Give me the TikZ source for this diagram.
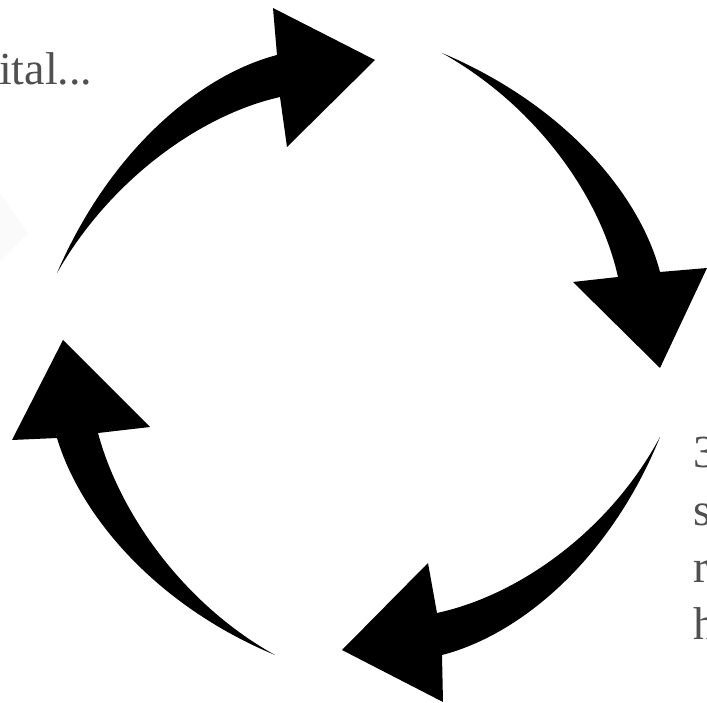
\documentclass[tikz,border=0pt]{standalone}
\usepackage{fontspec}
\setmainfont{Liberation Serif}
\definecolor{txtgrey}{HTML}{505050}

\begin{document}
\begin{tikzpicture}[
  x=1pt, y=-1pt,
  txt/.style={anchor=base west, inner sep=0pt, text=txtgrey,
              font=\fontsize{46}{57}\selectfont},
  blk/.style={fill=black},
  ghost/.style={fill=black!2}]

\clip (0,0) rectangle (707,703);

% faint shape at the left border
\fill[ghost] (0,193) -- (28,233) -- (0,262) -- cycle;

\node[txt] (lefttxt) at (-1,85) {ital...};
\node[txt] (r1) at (693,467) {3};
\node[txt] (r2) at (693,525) {s};
\node[txt] (r3) at (693,582) {r};
\node[txt] (r4) at (693,639) {h};

% top left arrow
\fill[blk] (57,273) .. controls (110,150) and (200,75) .. (277,55)
  -- (273,8) -- (375,60) -- (287,147) -- (280,97)
  .. controls (200,115) and (110,180) .. cycle;
% top right arrow
\fill[blk] (442,53) .. controls (565,105) and (640,195) .. (660,272)
  -- (707,268) -- (660,368) -- (573,282) -- (618,277)
  .. controls (600,195) and (535,105) .. cycle;
% bottom right arrow
\fill[blk] (660,437) .. controls (610,560) and (520,635) .. (442,655)
  -- (443,702) -- (342,650) -- (428,563) -- (437,613)
  .. controls (520,595) and (610,530) .. cycle;
% bottom left arrow
\fill[blk] (275,655) .. controls (155,605) and (80,515) .. (57,438)
  -- (12,440) -- (63,340) -- (150,427) -- (98,433)
  .. controls (120,515) and (185,605) .. cycle;
\end{tikzpicture}
\end{document}
